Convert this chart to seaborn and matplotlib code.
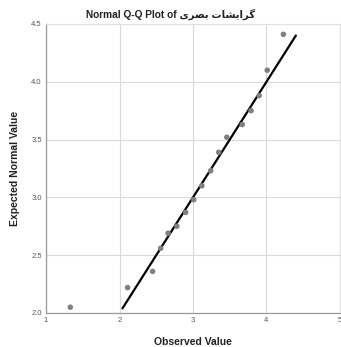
import matplotlib
matplotlib.use("Agg")
import matplotlib.pyplot as plt
import seaborn as sns
import pandas as pd

# Q-Q points
observed = [1.33, 2.11, 2.45, 2.56, 2.66, 2.78, 2.90, 3.01, 3.12, 3.24,
            3.35, 3.46, 3.67, 3.79, 3.90, 4.01, 4.23]
expected = [2.05, 2.22, 2.36, 2.56, 2.69, 2.75, 2.87, 2.98, 3.10, 3.23,
            3.39, 3.52, 3.63, 3.75, 3.88, 4.10, 4.41]
ref_line = [2.04, 4.40]

x_ticks = [1, 2, 3, 4, 5]
y_ticks = [2.0, 2.5, 3.0, 3.5, 4.0, 4.5]

# "گرایشات بصری" in presentation forms, visual (left-to-right) order
fa_word1 = "\uFB94\uFEAE\uFE8D\uFBFE\uFEB8\uFE8E\uFE95"
fa_word2 = "\uFE91\uFEBC\uFEAE\uFBFC"
fa_visual = (fa_word1 + " " + fa_word2)[::-1]

df = pd.DataFrame({"observed": observed, "expected": expected})
line_df = pd.DataFrame({"x": ref_line, "y": ref_line})

sns.set_style("white")
fam = ["Liberation Sans", "DejaVu Sans"]

fig = plt.figure(figsize=(3.41, 3.47), dpi=100)
ax = fig.add_axes([0.135, 0.098, 0.862, 0.833])

sns.lineplot(data=line_df, x="x", y="y", ax=ax, color="black", linewidth=1.6, zorder=2)
sns.scatterplot(data=df, x="observed", y="expected", ax=ax, color="#808080",
                s=16, edgecolor="none", zorder=3)

ax.set_xlim(1, 5)
ax.set_ylim(2.0, 4.5)
ax.set_xticks(x_ticks)
ax.set_xticklabels([str(t) for t in x_ticks])
ax.set_yticks(y_ticks)
ax.set_yticklabels([f"{t:.1f}" for t in y_ticks])
ax.grid(True, color="#d9d9d9", linewidth=0.8)
ax.set_axisbelow(True)
ax.tick_params(length=0, labelsize=5.5, labelcolor="#555555", pad=3)
for lab in ax.get_xticklabels() + ax.get_yticklabels():
    lab.set_family(fam)

for side in ["top", "right"]:
    ax.spines[side].set_color("#e0e0e0")
    ax.spines[side].set_linewidth(0.8)
for side in ["left", "bottom"]:
    ax.spines[side].set_color("#999999")
    ax.spines[side].set_linewidth(0.9)

ax.set_xlabel("Observed Value", fontsize=7.5, fontweight="bold", family=fam,
              color="#222222", labelpad=9)
ax.set_ylabel("Expected Normal Value", fontsize=7.5, fontweight="bold", family=fam,
              color="#222222", labelpad=8)
fig.text(0.5, 0.958, "Normal Q-Q Plot of " + fa_visual, ha="center", va="center",
         fontsize=7.3, fontweight="bold", family=fam, color="#222222")

fig.savefig("out.png", dpi=100)
